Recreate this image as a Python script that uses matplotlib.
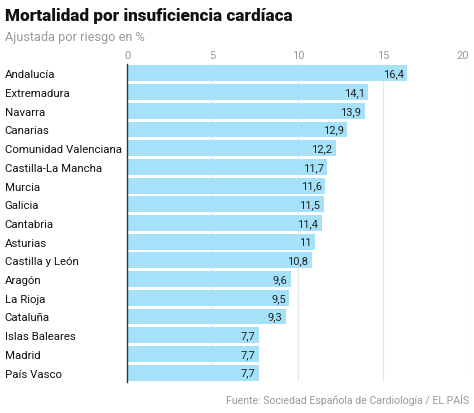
import numpy as np
import matplotlib.pyplot as plt

# datos
regiones = ['Andalucía', 'Extremadura', 'Navarra', 'Canarias', 'Comunidad Valenciana',
            'Castilla-La Mancha', 'Murcia', 'Galicia', 'Cantabria', 'Asturias',
            'Castilla y León', 'Aragón', 'La Rioja', 'Cataluña', 'Islas Baleares',
            'Madrid', 'País Vasco']
valores = [16.4, 14.1, 13.9, 12.9, 12.2, 11.7, 11.6, 11.5, 11.4, 11.0,
           10.8, 9.6, 9.5, 9.3, 7.7, 7.7, 7.7]
etiquetas = ['16,4', '14,1', '13,9', '12,9', '12,2', '11,7', '11,6', '11,5', '11,4', '11',
             '10,8', '9,6', '9,5', '9,3', '7,7', '7,7', '7,7']
ticks = [0, 5, 10, 15, 20]

plt.rcParams['font.family'] = ['Roboto', 'DejaVu Sans']

fig = plt.figure(figsize=(4.74, 4.14), dpi=100)
ax = fig.add_axes([0.268, 0.075, 0.721, 0.768])

y = np.arange(len(regiones))
ax.barh(y, valores, height=0.85, color='#a5e2fa', zorder=2)
for yi, v, lab in zip(y, valores, etiquetas):
    ax.text(v - 0.2, yi, lab, ha='right', va='center', fontsize=8, color='#222222', zorder=3)

ax.set_xlim(0, 20)
ax.set_ylim(len(regiones) - 0.5, -0.5)
ax.set_yticks(y)
ax.set_yticklabels(regiones, fontsize=8.2, color='#111111', ha='left')
ax.tick_params(axis='y', length=0, pad=88)
ax.xaxis.tick_top()
ax.set_xticks(ticks)
ax.set_xticklabels([str(t) for t in ticks], fontsize=8, color='#999999')
ax.tick_params(axis='x', length=0, pad=3)
ax.get_xticklabels()[-1].set_ha('right')
ax.grid(axis='x', color='#e6e6e6', linewidth=0.8, zorder=0)
for s in ['top', 'right', 'bottom']:
    ax.spines[s].set_visible(False)
ax.spines['left'].set_color('#333333')
ax.spines['left'].set_linewidth(1.0)
ax.spines['left'].set_zorder(4)

fig.text(0.011, 0.962, 'Mortalidad por insuficiencia cardíaca', fontsize=12.3,
         fontweight='black', color='#111111', va='center')
fig.text(0.011, 0.91, 'Ajustada por riesgo en %', fontsize=9.2, color='#999999', va='center')
fig.text(0.989, 0.033, 'Fuente: Sociedad Española de Cardiología / EL PAÍS', fontsize=7.6,
         color='#999999', ha='right', va='center')

fig.savefig('out.png', dpi=100)
